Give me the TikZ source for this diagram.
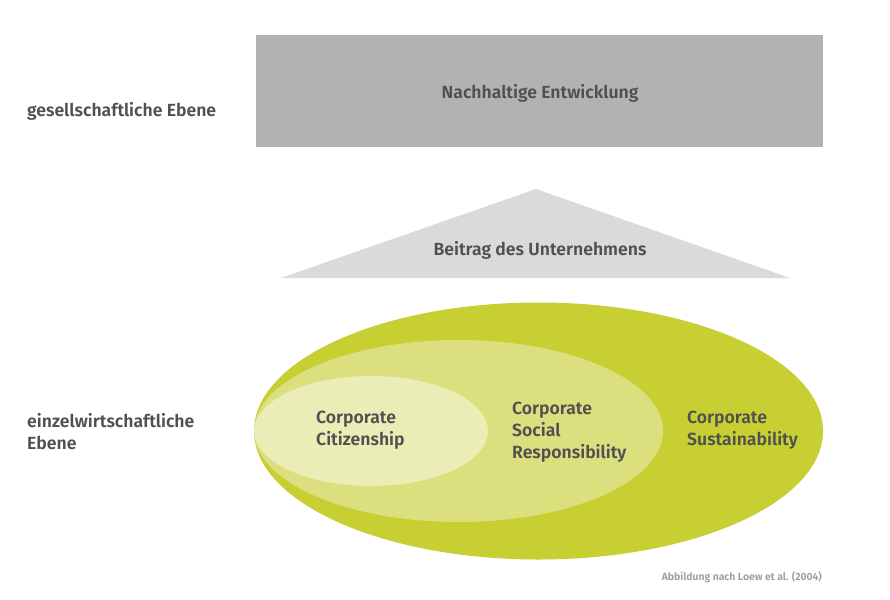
\documentclass[tikz,border=0pt]{standalone}
\usepackage{fontspec}
\setmainfont{Fira Sans}[UprightFont=* SemiBold, BoldFont=* Bold]
\definecolor{txt}{HTML}{505050}
\definecolor{capc}{HTML}{9B9B9B}
\definecolor{boxg}{HTML}{B1B2B4}
\definecolor{trig}{HTML}{DADADA}
\definecolor{ell1}{HTML}{C8CF33}
\definecolor{ell2}{HTML}{DBDF7E}
\definecolor{ell3}{HTML}{EAEDB6}
\tikzset{
  lbl/.style={text=txt, font=\fontsize{17.6pt}{22pt}\selectfont, inner sep=0pt},
  lbll/.style={lbl, align=left, anchor=west},
}
\begin{document}
\begin{tikzpicture}[x=1pt,y=-1pt]
\useasboundingbox[fill=white] (0,0) rectangle (890,599);
% top box
\node[fill=boxg, minimum width=567pt, minimum height=112pt, inner sep=0pt, anchor=north west] (box) at (256,35) {};
\node[lbl] (boxt) at (540,93) {Nachhaltige Entwicklung};
% triangle
\coordinate (ta) at (536,189);
\coordinate (tl) at (281,278);
\coordinate (tr) at (790,278);
\fill[trig] (ta) -- (tr) -- (tl) -- cycle;
\node[lbl] (trit) at (540,250) {Beitrag des Unternehmens};
% ellipses
\fill[ell1] (538.5,431) ellipse [x radius=284.5, y radius=128.5];
\fill[ell2] (458.5,431) ellipse [x radius=204.5, y radius=91];
\fill[ell3] (371,431) ellipse [x radius=117, y radius=55];
\node[lbll] (cc) at (316,430) {Corporate\\Citizenship};
\node[lbll] (csr) at (512,432) {Corporate\\Social\\Responsibility};
\node[lbll] (cs) at (687,430) {Corporate\\Sustainability};
% left labels
\node[lbll] (ge) at (27,111.5) {gesellschaftliche Ebene};
\node[lbll] (ee) at (27,432) {einzelwirtschaftliche\\Ebene};
% caption
\node[text=capc, font=\fontsize{10.4pt}{12pt}\selectfont, anchor=east, inner sep=0pt] (cap) at (822,577) {Abbildung nach Loew et al. (2004)};
\end{tikzpicture}
\end{document}
